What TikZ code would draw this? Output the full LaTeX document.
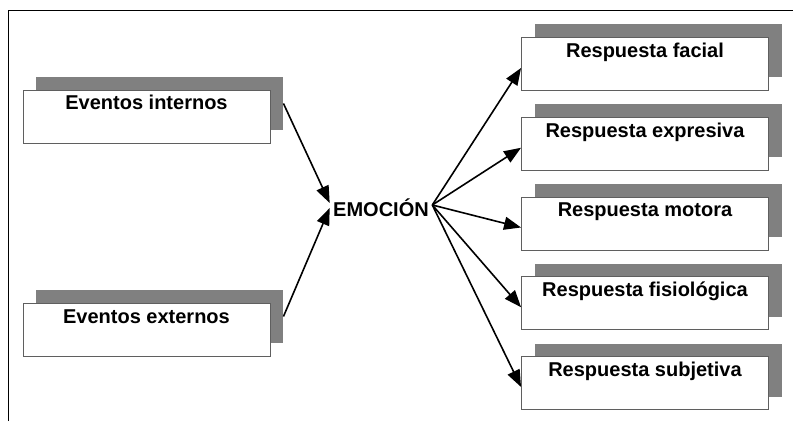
\documentclass[tikz,border=0pt]{standalone}
\usepackage{fontspec}
\setmainfont{Liberation Sans}
\usetikzlibrary{arrows.meta,positioning,shadows}
\definecolor{shade}{RGB}{128,128,128}
\definecolor{rim}{RGB}{95,95,95}

\tikzset{
  evbox/.style={draw=rim,line width=0.9pt,fill=white,minimum width=247pt,
    inner ysep=4pt,text height=16pt,text depth=29pt,
    drop shadow={shadow xshift=13pt,shadow yshift=13pt,fill=shade,opacity=1}},
  flow/.style={-{Triangle[length=17pt,width=13pt]},line width=1.6pt}
}

\begin{document}
\begin{tikzpicture}[x=1pt,y=1pt,font=\fontsize{20}{24}\selectfont\bfseries]
  \useasboundingbox (0,0) rectangle (793,421);
  \draw[line width=1pt] (8,0) -- (8,410) -- (793,410);
  % causes
  \node[evbox] (int) at (146.5,304.5) {Eventos internos};
  \node[evbox] (ext) at (146.5,91.5) {Eventos externos};
  \node (emo) at (381,213) {EMOCIÓN};
  % responses
  \foreach \i/\txt in {1/facial,2/expresiva,3/motora,4/fisiológica,5/subjetiva}
    \node[evbox] (r\i) at (645,{357-79.75*(\i-1)}) {Respuesta \txt};
  \draw[flow] ([shift={(13pt,13pt)}]int.east) -- ([yshift=5pt]emo.west);
  \draw[flow] ([shift={(13pt,13pt)}]ext.east) -- (emo.west);
  \foreach \i in {1,...,5}
    \draw[flow] ([yshift=3pt]emo.east) -- ([yshift=-4pt]r\i.west);
\end{tikzpicture}
\end{document}
